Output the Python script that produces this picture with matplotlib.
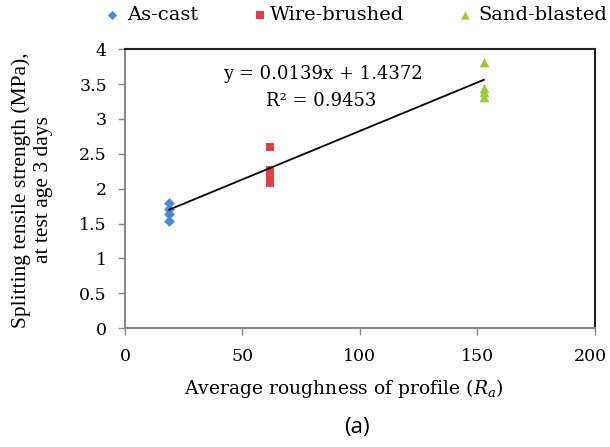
import matplotlib
matplotlib.use("Agg")
import matplotlib.pyplot as plt
from matplotlib.transforms import ScaledTranslation

plt.rcParams["mathtext.fontset"] = "dejavuserif"

# Data
ascast_x = [18.8, 18.8, 18.8, 18.8]
ascast_y = [1.79, 1.71, 1.64, 1.53]
wire_x = [61.9, 61.9, 61.9, 61.9]
wire_y = [2.60, 2.27, 2.20, 2.08]
sand_x = [152.8, 152.8, 152.8, 152.8]
sand_y = [3.82, 3.45, 3.39, 3.31]
slope, intercept = 0.0139, 1.4372
trend_x = [18.8, 152.8]

series_names = ["As-cast", "Wire-brushed", "Sand-blasted"]
xticks = [0, 50, 100, 150, 200]
yticks = [0, 0.5, 1, 1.5, 2, 2.5, 3, 3.5, 4]
ytick_labels = ["0", "0.5", "1", "1.5", "2", "2.5", "3", "3.5", "4"]

c_blue = "#4a8ad6"
c_red = "#dd4048"
c_green = "#9acb3c"

serif = ["DejaVu Serif"]
tserif = ["Liberation Serif", "DejaVu Serif"]

fig = plt.figure(figsize=(6.10, 4.47), dpi=100)
ax = fig.add_axes([0.205, 0.266, 0.770, 0.624])

ax.scatter(ascast_x, ascast_y, marker="D", s=30, color=c_blue, zorder=3, linewidths=0)
ax.scatter(wire_x, wire_y, marker="s", s=36, color=c_red, zorder=3, linewidths=0)
ax.scatter(sand_x, sand_y, marker="^", s=48, color=c_green, zorder=3, linewidths=0)
ty = [slope * x + intercept for x in trend_x]
ax.plot(trend_x, ty, color="black", lw=1.3, zorder=4)

ax.set_xlim(0, 200)
ax.set_ylim(0, 4)
ax.set_xticks(xticks)
ax.set_yticks(yticks)
ax.set_yticklabels(ytick_labels)
for lab in ax.get_xticklabels() + ax.get_yticklabels():
    lab.set_family(serif)
    lab.set_fontsize(12.5)
ax.tick_params(direction="out", length=5, color="#888888", width=1)
ax.tick_params(axis="x", pad=9)
ax.tick_params(axis="y", pad=8)
# nudge the right-most x tick label so it stays inside the image
last = ax.get_xticklabels()[-1]
last.set_transform(last.get_transform() + ScaledTranslation(-4 / 100, 0, fig.dpi_scale_trans))

for side in ["left", "bottom"]:
    ax.spines[side].set_color("#888888")
    ax.spines[side].set_linewidth(1.5)
for side in ["top", "right"]:
    ax.spines[side].set_color("#222222")
    ax.spines[side].set_linewidth(1.5)

ax.text(84.3, 3.64, "y = 0.0139x + 1.4372", family=serif, fontsize=13, ha="center", va="center")
ax.text(83.5, 3.26, "R² = 0.9453", family=serif, fontsize=13, ha="center", va="center")

fig.text(344 / 610, 1 - 388 / 447, "Average roughness of profile ($\\mathit{R_a}$)",
         family=serif, fontsize=13.5, ha="center", va="center")
fig.text(32 / 610, 1 - 190 / 447, "Splitting tensile strength (MPa),\nat test age 3 days",
         family=tserif, fontsize=15.5, ha="center", va="center", rotation=90,
         multialignment="center", linespacing=1.2)

# Legend row across the top
overlay = fig.add_axes([0, 0, 1, 1], facecolor="none")
overlay.set_xlim(0, 610)
overlay.set_ylim(447, 0)
overlay.axis("off")
leg_marker_x = [112, 260, 465]
leg_text_x = [127, 270, 478]
leg_markers = ["D", "s", "^"]
leg_sizes = [22, 28, 36]
leg_colors = [c_blue, c_red, c_green]
for name, mx, tx, mk, sz, col in zip(series_names, leg_marker_x, leg_text_x, leg_markers, leg_sizes, leg_colors):
    overlay.scatter([mx], [15], marker=mk, s=sz, color=col, linewidths=0)
    overlay.text(tx, 15, name, family=serif, fontsize=14, ha="left", va="center")

fig.text(357 / 610, 1 - 428 / 447, "(a)", family=["Open Sans", "DejaVu Sans"], fontsize=16,
         ha="center", va="center")

fig.savefig("out.png", dpi=100)
